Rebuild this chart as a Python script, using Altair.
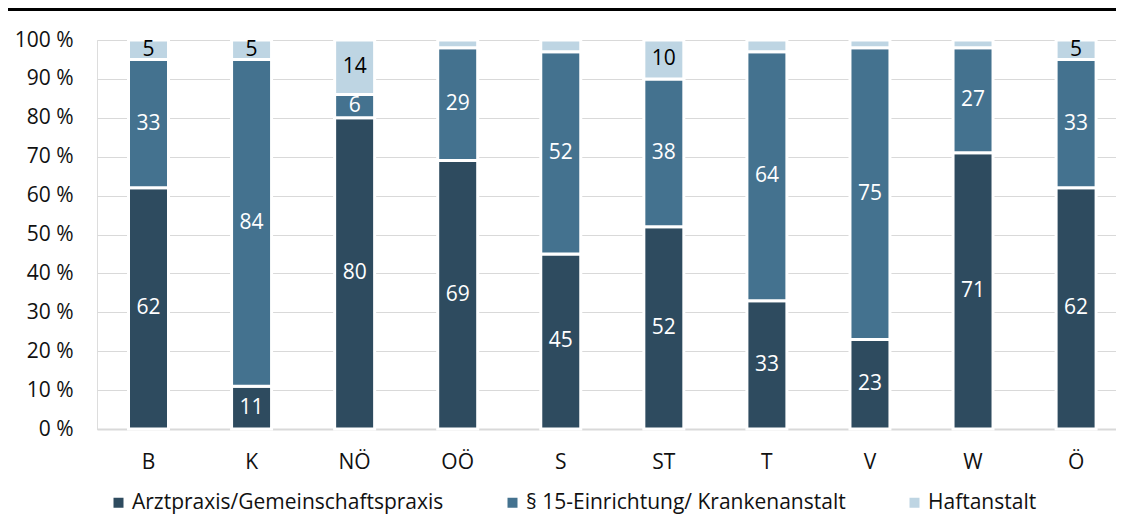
import altair as alt
import pandas as pd

regions = ["B", "K", "NÖ", "OÖ", "S", "ST", "T", "V", "W", "Ö"]
arzt = [62, 11, 80, 69, 45, 52, 33, 23, 71, 62]
einr = [33, 84, 6, 29, 52, 38, 64, 75, 27, 33]
haft = [5, 5, 14, 2, 3, 10, 3, 2, 2, 5]
series = ["Arztpraxis/Gemeinschaftspraxis", "§ 15-Einrichtung/ Krankenanstalt", "Haftanstalt"]
colors = ["#2E4B5F", "#44728F", "#BED5E3"]
y_ticks = [0, 10, 20, 30, 40, 50, 60, 70, 80, 90, 100]

rows = []
for i, r in enumerate(regions):
    for k, (s, vals) in enumerate(zip(series, [arzt, einr, haft])):
        rows.append({"region": r, "series": s, "order": k, "value": vals[i]})
df = pd.DataFrame(rows)

FONT = "Open Sans"
FS = 21

base = alt.Chart(df).transform_stack(
    stack="value", groupby=["region"], as_=["y0", "y1"],
    sort=[alt.SortField("order", order="ascending")]
).transform_calculate(mid="(datum.y0 + datum.y1) / 2")

xscale = alt.Scale(range=[0, 1030.6], paddingInner=0.612, paddingOuter=0.3057)
xaxis = alt.Axis(title=None, ticks=False, domainColor="#d9d9d9", domainWidth=2,
                 labelPadding=22, labelAngle=0, labelFontSize=FS, grid=False,
                 labelColor="#111", labelFont=FONT)
yscale = alt.Scale(domain=[0, 100], nice=False)
yaxis = alt.Axis(values=y_ticks, tickCount=11, labelExpr="datum.value + ' %'", domain=False,
                 ticks=False, labelPadding=24, gridColor="#d9d9d9", title=None,
                 labelFontSize=FS, labelColor="#111", labelFont=FONT, labelOverlap=False)

bars = base.mark_bar(stroke="white", strokeWidth=3).encode(
    x=alt.X("region:N", sort=regions, scale=xscale, axis=xaxis),
    y=alt.Y("y0:Q", scale=yscale, axis=yaxis),
    y2="y1:Q",
    color=alt.Color("series:N", scale=alt.Scale(domain=series, range=colors),
                    legend=alt.Legend(title=None, orient="none", legendX=11, legendY=452,
                                      direction="horizontal", symbolType="square",
                                      symbolSize=100, labelFontSize=FS, columnPadding=58,
                                      labelOffset=3, padding=0, symbolStrokeWidth=0,
                                      labelLimit=0, labelColor="#111", labelFont=FONT)),
    order=alt.Order("order:Q"),
)

labels = base.transform_filter("datum.value >= 5").mark_text(
    fontSize=FS, font=FONT, baseline="middle", align="center"
).encode(
    x=alt.X("region:N", sort=regions, scale=xscale, axis=xaxis),
    y=alt.Y("mid:Q", scale=yscale, axis=yaxis),
    text=alt.Text("value:Q"),
    color=alt.condition("datum.order == 2", alt.value("#000000"), alt.value("#ffffff")),
)

topline = alt.Chart(pd.DataFrame({"a": [0]})).mark_rule(color="black", strokeWidth=3).encode(
    x=alt.value(-89), x2=alt.value(1030), y=alt.value(-30.5)
)

chart = alt.layer(bars, labels, topline).properties(
    width=1019, height=389,
    autosize=alt.AutoSizeParams(type="none"),
    padding={"left": 89, "top": 32, "right": 0, "bottom": 89},
).configure_view(stroke=None).configure(font=FONT)

chart.save("out.html", embed_options={"renderer": "svg", "actions": False})
